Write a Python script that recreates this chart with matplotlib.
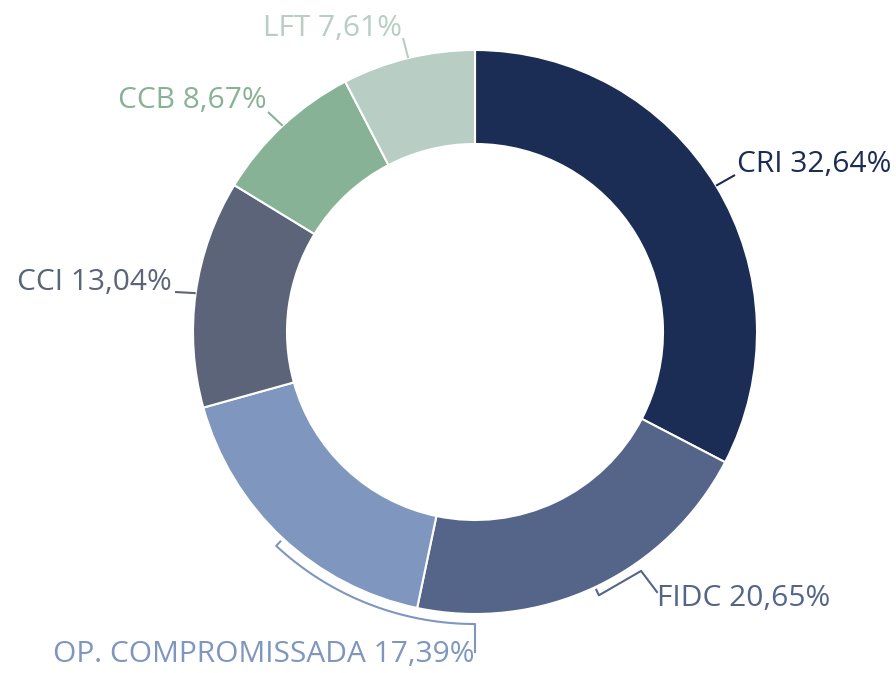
import numpy as np
import matplotlib
matplotlib.use("Agg")
import matplotlib.pyplot as plt

categories = ["CRI", "FIDC", "OP. COMPROMISSADA", "CCI", "CCB", "LFT"]
values = [32.64, 20.65, 17.39, 13.04, 8.67, 7.61]
colors = ["#1B2D55", "#546589", "#7F96BF", "#5B6478", "#88B295", "#B8CDC4"]

W, H = 896, 673
fig = plt.figure(figsize=(W / 100, H / 100), dpi=100)
ax = fig.add_axes([0, 0, 1, 1])
ax.set_xlim(0, W)
ax.set_ylim(0, H)
ax.axis("off")

cx, cy = 475, H - 332
R = 282
width = 94
wedges, _ = ax.pie(values, colors=colors, startangle=90, counterclock=False,
                   radius=R, center=(cx, cy), frame=False,
                   wedgeprops=dict(width=width, edgecolor="white", linewidth=1.5))
ax.set_xlim(0, W)
ax.set_ylim(0, H)
ax.set_aspect("equal")

font = "Open Sans"
fs = 21.5

def lbl(v):
    return f"{v:.2f}".replace(".", ",") + "%"

def pt(ang, r):
    a = np.deg2rad(ang)
    return cx + r * np.cos(a), cy + r * np.sin(a)

def mid(w):
    return (w.theta1 + w.theta2) / 2

# label placement: (text x, text y (image coords), ha, leader end point (image coords))
place = {
    "CRI": (737, 165, "left", (735, 175)),
    "CCI": (172, 283, "right", (175, 292)),
    "CCB": (267, 100, "right", (268, 112)),
    "LFT": (402, 28, "right", (403, 38)),
}

for w, cat, v, c in zip(wedges, categories, values, colors):
    text = f"{cat} {lbl(v)}"
    if cat in place:
        tx, ty, ha, (ex, ey) = place[cat]
        sx, sy = pt(mid(w), R)
        ax.plot([sx, ex], [sy, H - ey], color=c, lw=1.5, solid_capstyle="butt")
        ax.text(tx, H - ty, text, ha=ha, va="center", color=c, fontsize=fs, family=font)
    elif cat == "FIDC":
        a1, a2 = -64.8, -55.2
        r_b = 291
        p1 = pt(a1, r_b)
        p2 = pt(a2, r_b)
        t1 = pt(a1, r_b - 6)
        ax.plot([t1[0], p1[0], p2[0], 642 + 15], [t1[1], p1[1], p2[1], H - 592],
                color=c, lw=1.5)
        ax.text(657, H - 598, text, ha="left", va="center", color=c, fontsize=fs, family=font)
    else:  # OP. COMPROMISSADA
        a1, a2 = -132.9, -90.0
        r_b = 292
        angs = np.linspace(a1, a2, 80)
        xs = cx + r_b * np.cos(np.deg2rad(angs))
        ys = cy + r_b * np.sin(np.deg2rad(angs))
        t1 = pt(a1, r_b - 6)
        xs = np.concatenate([[t1[0]], xs, [cx]])
        ys = np.concatenate([[t1[1]], ys, [H - 652]])
        ax.plot(xs, ys, color=c, lw=1.5)
        ax.text(474, H - 655, text, ha="right", va="center", color=c, fontsize=fs, family=font)

fig.savefig("out.png", dpi=100)
